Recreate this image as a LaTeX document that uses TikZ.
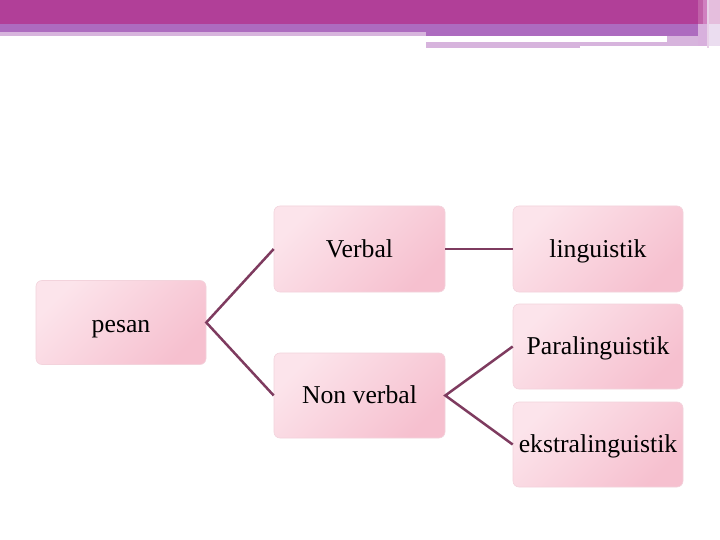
\documentclass[tikz,border=0pt]{standalone}
\usepackage{fontspec}
\setmainfont{Liberation Serif}
\definecolor{barmag}{HTML}{B13F98}
\definecolor{barpur}{HTML}{AD6BBF}
\definecolor{barlav}{HTML}{D7B4DD}
\definecolor{boxlight}{HTML}{FCE4EB}
\definecolor{boxdark}{HTML}{F6C0CF}
\definecolor{boxedge}{HTML}{F3D3DC}
\definecolor{linkcol}{HTML}{7E3B5F}
\begin{document}
\begin{tikzpicture}[x=1pt,y=-1pt,
  itembox/.style={rounded corners=6pt, inner sep=0pt, minimum width=170pt, minimum height=85pt,
    text height=20pt, text depth=4pt,
    top color=boxlight, bottom color=boxdark, shading angle=45, draw=boxedge, line width=0.6pt,
    font=\fontsize{25.7}{29}\selectfont, text=black},
  link/.style={draw=linkcol, line width=2.5pt}]
\useasboundingbox (0,0) rectangle (720,540);
\fill[white] (0,0) rectangle (720,540);
% header bars
\fill[barmag] (0,0) rectangle (698,24);
\fill[barpur] (0,24) rectangle (698,32);
\fill[barpur] (426,32) rectangle (698,36);
\fill[barlav] (0,32) rectangle (426,36);
\fill[barlav] (426,42) rectangle (580,48.5);
\fill[barlav] (580,42) rectangle (667,46);
\fill[barlav] (667,36) rectangle (698,46);
\fill[fill={rgb,255:red,192;green,96;blue,168}] (698,0) rectangle (703,24);
\fill[fill={rgb,255:red,208;green,128;blue,192}] (703,0) rectangle (707,24);
\fill[fill={rgb,255:red,216;green,176;blue,221}] (698,24) rectangle (707,46);
\fill[fill={rgb,255:red,232;green,208;blue,232}] (707,0) rectangle (709,48);
\fill[fill={rgb,255:red,229;green,190;blue,221}] (709,0) rectangle (720,24);
\fill[fill={rgb,255:red,235;green,221;blue,240}] (709,24) rectangle (720,46);
% boxes
\node[itembox, minimum height=84pt, text height=21.5pt, text depth=2.5pt] (pesan) at (121,322.5) {pesan};
\node[itembox, minimum width=171pt, minimum height=86pt] (verbal) at (359.5,249) {Verbal};
\node[itembox, minimum height=86pt] (ling) at (598,249) {linguistik};
\node[itembox] (para) at (598,346.5) {Paralinguistik};
\node[itembox, minimum width=171pt] (nonverbal) at (359.5,395.5) {Non verbal};
\node[itembox] (ekstra) at (598,444.5) {ekstralinguistik};
% connectors
\draw[link] (verbal.west) -- (pesan.east) -- (nonverbal.west);
\draw[link] (verbal.east) -- (ling.west);
\draw[link] (para.west) -- (nonverbal.east) -- (ekstra.west);
\end{tikzpicture}
\end{document}
